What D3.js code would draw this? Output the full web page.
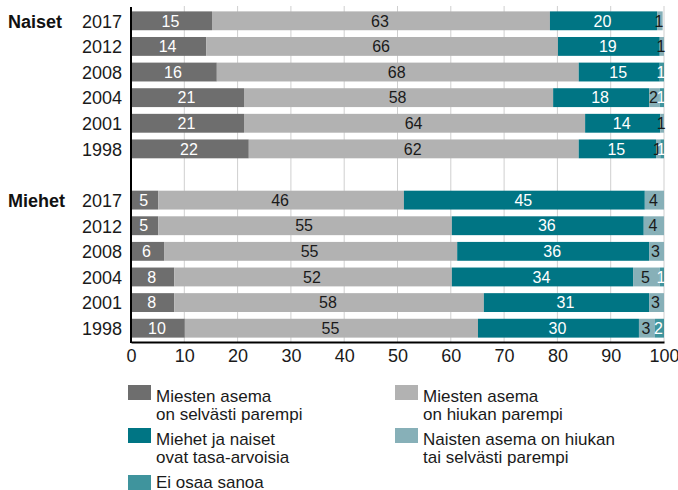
<!DOCTYPE html>
<html>
<head>
<meta charset="utf-8">
<script src="https://cdn.jsdelivr.net/npm/d3@7"></script>
<style>
    body { margin: 0; background: #fff; }
    svg text { font-family: "Liberation Sans", Arial, Helvetica, sans-serif; }
</style>
</head>
<body>
<div id="div_chart"></div>
<script>
var years = ['2017', '2012', '2008', '2004', '2001', '1998'];
var groups = ['Naiset', 'Miehet'];
var series_names = [
    ['Miesten asema', 'on selvästi parempi'],
    ['Miesten asema', 'on hiukan parempi'],
    ['Miehet ja naiset', 'ovat tasa-arvoisia'],
    ['Naisten asema on hiukan', 'tai selvästi parempi'],
    ['Ei osaa sanoa']
];
var series_colors = ['#6e6e6e', '#b2b2b2', '#007584', '#87b0b8', '#3f949d'];
var label_colors = ['#fff', '#1a1a1a', '#fff', '#1a1a1a', '#fff'];

// Naiset, rows in the order of years
var naiset_selvasti = [15.2, 14.1, 16.1, 21.2, 21.2, 22.1];
var naiset_hiukan   = [63.4, 66.0, 67.9, 58.0, 64.0, 61.9];
var naiset_tasa     = [20.1, 19.1, 15.2, 18.0, 14.1, 14.5];
var naiset_naisten  = [1.05, 0.8, 0, 2.0, 0.7, 0.8];
var naiset_eos      = [0, 0, 0.8, 0.8, 0, 0.7];
// Miehet
var miehet_selvasti = [5.1, 5.1, 6.2, 8.1, 8.1, 10.1];
var miehet_hiukan   = [46.1, 55.1, 55.0, 52.1, 58.1, 55.0];
var miehet_tasa     = [45.2, 36.0, 36.0, 34.0, 31.0, 30.2];
var miehet_naisten  = [3.6, 3.8, 2.8, 5.0, 2.8, 3.0];
var miehet_eos      = [0, 0, 0, 0.8, 0, 1.7];

var x_ticks = [0, 10, 20, 30, 40, 50, 60, 70, 80, 90, 100];

var width = 678, height = 490;

// build rows
var rows = [];
var group_series = [
    [naiset_selvasti, naiset_hiukan, naiset_tasa, naiset_naisten, naiset_eos],
    [miehet_selvasti, miehet_hiukan, miehet_tasa, miehet_naisten, miehet_eos]
];
var row_keys = [];
groups.forEach(function(g, gi) {
    if(gi > 0) row_keys.push('gap');
    years.forEach(function(yr, i) {
        var key = g + '_' + yr;
        row_keys.push(key);
        var x0 = 0;
        var segs = group_series[gi].map(function(s, si) {
            var seg = {series: si, x0: x0, x1: x0 + s[i], value: s[i]};
            x0 += s[i];
            return seg;
        });
        rows.push({key: key, group: g, year: yr, first: i == 0, segs: segs});
    });
});

var x = d3.scaleLinear().domain([0, 100]).range([131, 664]);
var y = d3.scaleBand().domain(row_keys).range([8, 341]).paddingInner(0.264).paddingOuter(0.132);

var svg = d3.select('#div_chart')
    .append('svg')
    .attr('width', width)
    .attr('height', height);

// grid
svg.append('g')
    .attr('class', 'grid')
    .selectAll('line')
    .data(x_ticks.slice(1))
    .enter()
    .append('line')
    .attr('x1', function(d) { return x(d); })
    .attr('x2', function(d) { return x(d); })
    .attr('y1', 6)
    .attr('y2', 342)
    .attr('stroke', '#cfcfcf')
    .attr('stroke-width', 1);

// bars
var row_g = svg.selectAll('.row')
    .data(rows)
    .enter()
    .append('g')
    .attr('class', 'row')
    .attr('transform', function(d) { return 'translate(0,' + y(d.key) + ')'; });

row_g.each(function(d) {
    var this_row = d3.select(this);
    var segs = d.segs.filter(function(s) { return s.value > 0; });
    this_row.selectAll('rect')
        .data(segs)
        .enter()
        .append('rect')
        .attr('x', function(s) { return x(s.x0); })
        .attr('width', function(s) { return x(s.x1) - x(s.x0); })
        .attr('y', 0)
        .attr('height', y.bandwidth())
        .attr('fill', function(s) { return series_colors[s.series]; });
    this_row.selectAll('text.val')
        .data(segs)
        .enter()
        .append('text')
        .attr('class', 'val')
        .attr('x', function(s) { return (x(s.x0) + x(s.x1)) / 2 - 1; })
        .attr('y', y.bandwidth() / 2)
        .attr('dy', '0.36em')
        .attr('text-anchor', 'middle')
        .style('font-size', '16px')
        .attr('fill', function(s) { return label_colors[s.series]; })
        .text(function(s) { return Math.round(s.value); });
    // year label
    this_row.append('text')
        .attr('x', 122)
        .attr('y', y.bandwidth() / 2)
        .attr('dy', '0.38em')
        .attr('text-anchor', 'end')
        .style('font-size', '18px')
        .attr('fill', '#1a1a1a')
        .text(d.year);
    if(d.first) {
        this_row.append('text')
            .attr('x', 8)
            .attr('y', y.bandwidth() / 2)
            .attr('dy', '0.38em')
            .style('font-size', '18px')
            .style('font-weight', 'bold')
            .attr('fill', '#111')
            .text(d.group);
    }
});

// axes
svg.append('line')
    .attr('x1', x(0))
    .attr('x2', x(0))
    .attr('y1', 7)
    .attr('y2', 343)
    .attr('stroke', '#000')
    .attr('stroke-width', 2);

var x_axis = svg.append('g')
    .attr('transform', 'translate(0,342)')
    .call(d3.axisBottom(x).tickValues(x_ticks).tickSize(0).tickPadding(7).tickSizeOuter(0));
x_axis.select('.domain')
    .attr('stroke', '#000')
    .attr('stroke-width', 2);
x_axis.selectAll('text')
    .style('font-size', '18px')
    .style('font-family', '"Liberation Sans", Arial, sans-serif')
    .attr('fill', '#1a1a1a');

// legend
var legend_pos = [[128, 385], [395, 385], [128, 428], [395, 428], [128, 475]];
var legend = svg.selectAll('.legend')
    .data(series_names)
    .enter()
    .append('g')
    .attr('class', 'legend')
    .attr('transform', function(d, i) { return 'translate(' + legend_pos[i][0] + ',' + legend_pos[i][1] + ')'; });
legend.append('rect')
    .attr('width', 23)
    .attr('height', 15)
    .attr('fill', function(d, i) { return series_colors[i]; });
legend.each(function(d) {
    var t = d3.select(this)
        .append('text')
        .attr('x', 28)
        .attr('y', d.length > 1 ? 16.5 : 13)
        .style('font-size', '17px')
        .attr('fill', '#1a1a1a');
    d.forEach(function(line, li) {
        t.append('tspan')
            .attr('x', 28)
            .attr('dy', li == 0 ? 0 : 18)
            .text(line);
    });
});
</script>
</body>
</html>
